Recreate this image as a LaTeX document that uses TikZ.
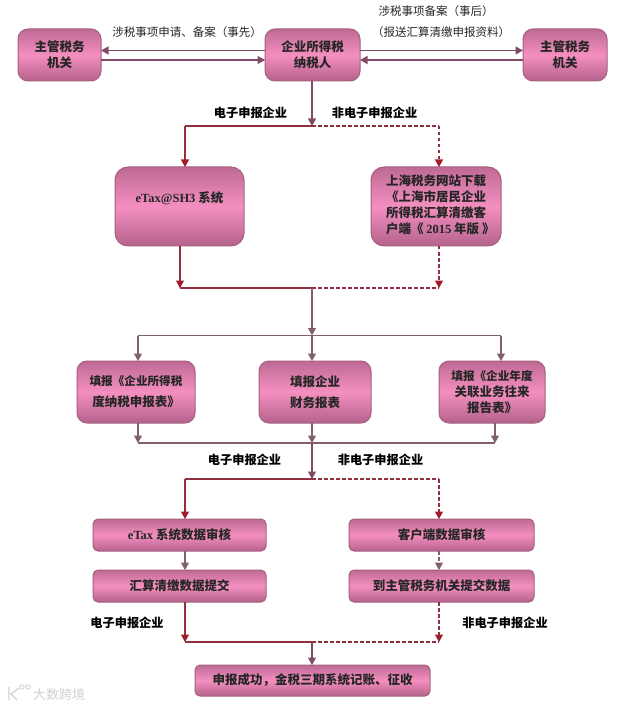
\documentclass[tikz,border=0pt]{standalone}
\usepackage{fontspec}
\setmainfont{Noto Sans CJK SC}
\newfontfamily\latinserif{Liberation Serif}
\usetikzlibrary{arrows.meta}
\definecolor{edgeM}{HTML}{A5607F}
\definecolor{boxTop}{HTML}{BE6A94}
\definecolor{boxMid}{HTML}{F48FBF}
\definecolor{boxBot}{HTML}{B4628B}
\definecolor{lnM}{HTML}{7E4A66}
\definecolor{lnG}{HTML}{80606F}
\definecolor{lnR}{HTML}{93303F}
\definecolor{tipR}{HTML}{A01C2C}
\tikzset{
  x=1pt,y=-1pt,
  pinkbox/.style={draw=edgeM,line width=1pt,top color=boxTop,bottom color=boxBot,middle color=boxMid,
    rounded corners=#1,inner sep=0pt,outer sep=0pt,anchor=north west,align=center,
    font=\bfseries\fontsize{12.5}{16}\selectfont,text=black!85},
  pinkbox/.default=10pt,
  lab/.style={font=\bfseries\fontsize{12.2}{14}\selectfont,text=black,inner sep=0pt},
  note/.style={font=\fontsize{11.5}{14}\selectfont,text=black!85,inner sep=0pt},
  arrowtip/.style={-{Triangle[length=7.5pt,width=8pt]}},
  flowM/.style={draw=lnM,line width=1.1pt,arrowtip},
  flowG/.style={draw=lnG,line width=1.1pt,arrowtip},
  flowR/.style={draw=lnR,line width=1.1pt,-{Triangle[length=7.5pt,width=8pt,color=tipR]}},
  flowD/.style={draw=lnR,line width=1.1pt,dash pattern=on 3.5pt off 2.5pt,-{Triangle[length=7.5pt,width=8pt,color=tipR]}},
  railS/.style={draw=lnR,line width=1.2pt},
  railD/.style={draw=lnR,line width=1.1pt,dash pattern=on 3.5pt off 2.5pt},
  railG/.style={draw=lnG,line width=1.1pt},
}
\newcommand{\ltn}[1]{{\latinserif\bfseries #1}}
\newcommand{\pbox}[7][10pt]{%
  \node[pinkbox=#1,minimum width=#5pt-#3pt,minimum height=#6pt-#4pt] (#2) at (#3,#4) {#7};}
\begin{document}
\begin{tikzpicture}
\useasboundingbox[fill=white] (0,0) rectangle (640,708);
% boxes
\pbox{tl}{18}{29}{101}{81}{主管税务\\机关}
\pbox{tc}{265}{29}{360}{81}{企业所得税\\纳税人}
\pbox{tr}{523}{29}{607}{81}{主管税务\\机关}
\pbox[13pt]{sys}{115}{167}{244}{246}{\ltn{eTax@SH3} 系统\\[2pt]~}
\pbox[13pt]{dl}{371}{167}{501}{246}{\begin{tabular}{@{}r@{}}\fontsize{12.5}{15.5}\selectfont 上海税务网站下载\\《上海市居民企业\\所得税汇算清缴客\\\makebox[8\fontdimen6\font][l]{户端《 \ltn{2015} 年版 》}\end{tabular}}
\pbox{fa}{77}{361}{195}{423}{\fontsize{11.6}{16}\selectfont 填报《企业所得税\\[5pt]度纳税申报表》}
\pbox{fb}{259}{361}{371}{423}{填报企业\\[5pt]财务报表}
\pbox{fc}{439}{361}{545}{423}{\fontsize{11.6}{16}\selectfont 填报《企业年度\\关联业务往来\\报告表》}
\pbox[5pt]{ca}{93}{519}{266}{551}{\ltn{eTax} 系统数据审核}
\pbox[5pt]{cb}{93}{570}{266}{602}{汇算清缴数据提交}
\pbox[5pt]{da}{349}{519}{534}{551}{客户端数据审核}
\pbox[5pt]{db}{349}{570}{534}{602}{到主管税务机关提交数据}
\pbox[5pt]{ok}{195}{665}{430}{696}{申报成功，金税三期系统记账、征收}
% junction coordinates
\coordinate (j1) at (312,126);
\coordinate (j1l) at (185,126);
\coordinate (j1r) at (439,126);
\coordinate (j2) at (312,288);
\coordinate (j2l) at (180,288);
\coordinate (j2r) at (439,288);
\coordinate (j3) at (312,335.5);
\coordinate (j3l) at (138,335.5);
\coordinate (j3r) at (501,335.5);
\coordinate (j4) at (312,443);
\coordinate (j4l) at (138,443);
\coordinate (j4r) at (495,443);
\coordinate (j5) at (312,479);
\coordinate (j5l) at (185,479);
\coordinate (j5r) at (439,479);
\coordinate (j6) at (312,642);
\coordinate (j6l) at (185,642);
\coordinate (j6r) at (439,642);
% top arrows
\draw[flowM] (tc.west |- 0,50.5) -- (tl.east |- 0,50.5);
\draw[flowM] (tl.east |- 0,60) -- (tc.west |- 0,60);
\draw[flowM] (tc.east |- 0,50.5) -- (tr.west |- 0,50.5);
\draw[flowM] (tr.west |- 0,60) -- (tc.east |- 0,60);
% split 1
\draw[flowM] (j1 |- tc.south) -- (j1);
\draw[railS] (j1) -- (j1l);
\draw[flowR] (j1l) -- (j1l |- sys.north);
\draw[railD] (j1) -- (j1r);
\draw[flowD] (j1r) -- (j1r |- dl.north);
% merge 1
\draw[flowR] (j2l |- sys.south) -- (j2l);
\draw[flowD] (j2r |- dl.south) -- (j2r);
\draw[railS] (j2l) -- (j2);
\draw[railD] (j2) -- (j2r);
\draw[flowG] (j2) -- (j3);
% fan out
\draw[railG] (j3l) -- (j3r);
\draw[flowG] (j3l) -- (j3l |- fa.north);
\draw[flowG] (j3) -- (j3 |- fb.north);
\draw[flowG] (j3r) -- (j3r |- fc.north);
% fan in
\draw[flowG] (j4l |- fa.south) -- (j4l);
\draw[flowG] (j4 |- fb.south) -- (j4);
\draw[flowG] (j4r |- fc.south) -- (j4r);
\draw[railG] (j4l) -- (j4r);
\draw[flowM] (j4) -- (j5);
% split 2
\draw[railS] (j5) -- (j5l);
\draw[flowR] (j5l) -- (j5l |- ca.north);
\draw[railD] (j5) -- (j5r);
\draw[flowD] (j5r) -- (j5r |- da.north);
\draw[flowG] (j5l |- ca.south) -- (j5l |- cb.north);
\draw[flowG,dash pattern=on 3.5pt off 2.5pt] (j5r |- da.south) -- (j5r |- db.north);
% merge 2
\draw[flowR] (j6l |- cb.south) -- (j6l);
\draw[flowD] (j6r |- db.south) -- (j6r);
\draw[railS] (j6l) -- (j6);
\draw[railD] (j6) -- (j6r);
\draw[flowM] (j6) -- (j6 |- ok.north);
% labels
\node[note] (n1) at (187,32) {涉税事项申请、备案（事先）};
\node[note] (n2) at (436,11) {涉税事项备案（事后）};
\node[note] (n3) at (441,32) {（报送汇算清缴申报资料）};
\node[lab] (l1) at (250.5,113) {电子申报企业};
\node[lab] (l2) at (374.5,113) {非电子申报企业};
\node[lab] (l3) at (244.5,460) {电子申报企业};
\node[lab] (l4) at (380.5,460) {非电子申报企业};
\node[lab] (l5) at (127,623) {电子申报企业};
\node[lab] (l6) at (505,623) {非电子申报企业};
% watermark
\node[inner sep=0pt,text=black!18,font=\fontsize{13}{15}\selectfont] (wm) at (59,695) {大数跨境};
\draw[black!18,line width=1.2pt,line cap=round] (9,687) -- (9,700) (19,688) -- (11,694) -- (17,700);
\draw[black!18,line width=.9pt] (22,687) circle (2.2) (28,687) circle (2.2);
\end{tikzpicture}
\end{document}
